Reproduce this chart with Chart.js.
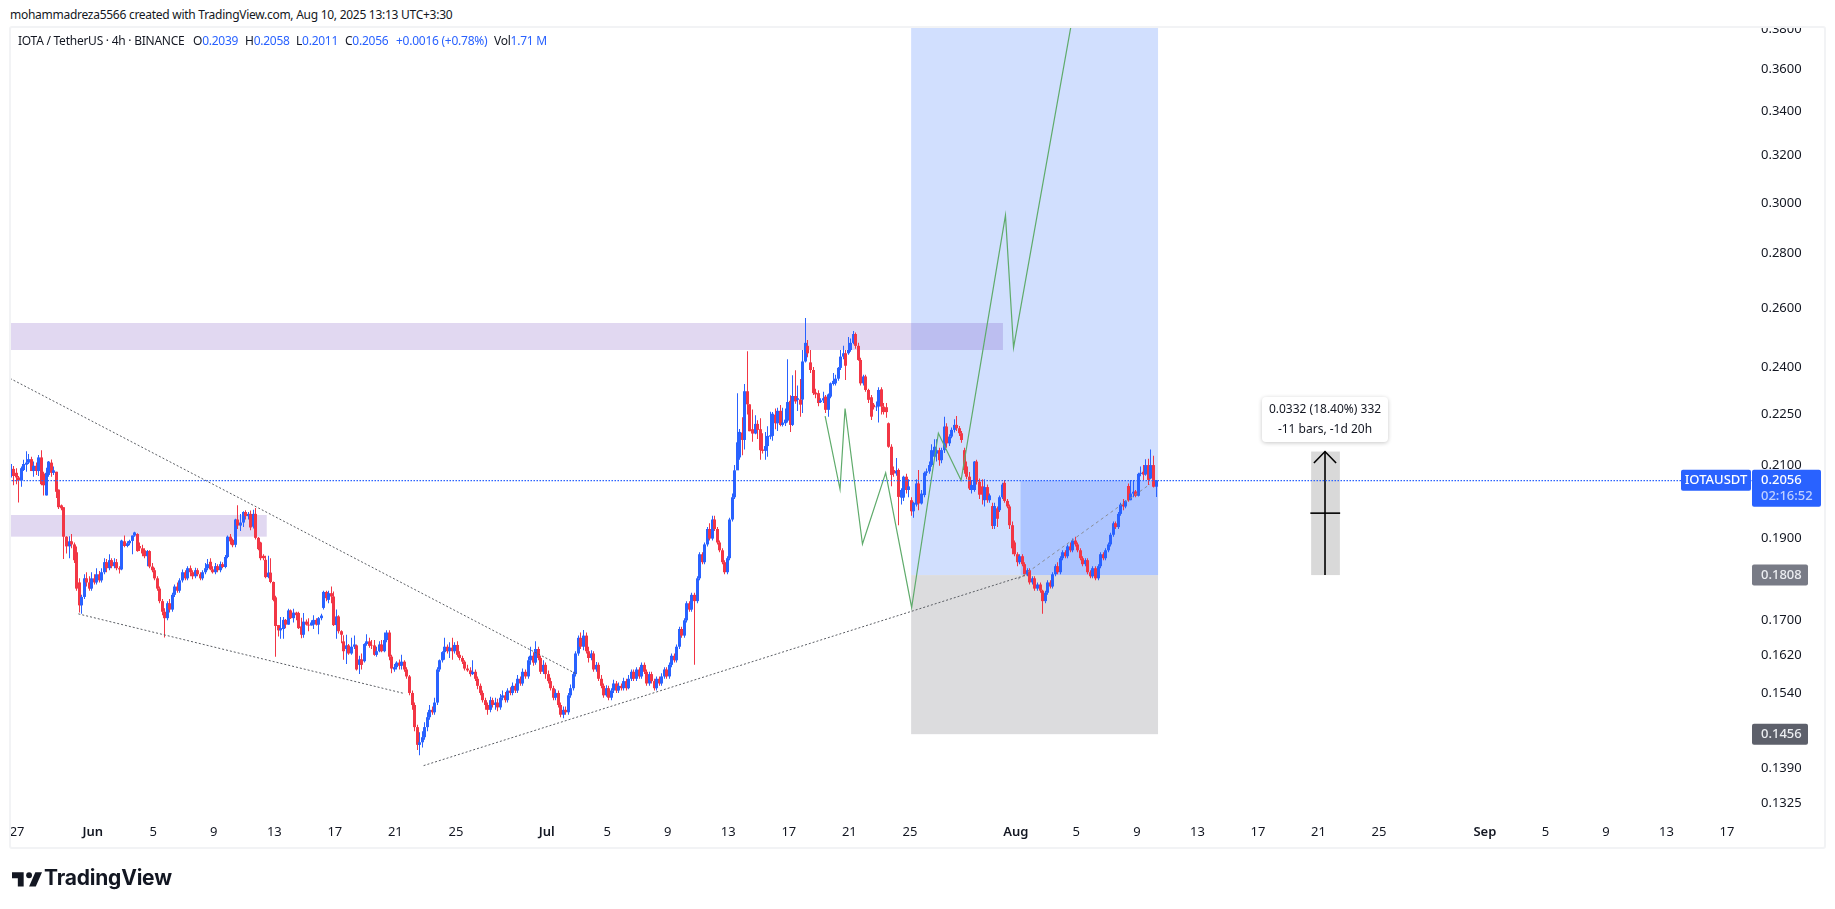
<!DOCTYPE html>
<html>
<head>
<meta charset="utf-8">
<title>IOTAUSDT</title>
<script src="https://cdn.jsdelivr.net/npm/chart.js@4"></script>
<style>
  html, body { margin: 0; padding: 0; background: #fff; overflow: hidden; }
  body { width: 1835px; height: 909px; position: relative; font-family: "Noto Sans", sans-serif; color: #131722; }
  canvas { position: absolute; left: 0; top: 0; }
  .abs { position: absolute; white-space: nowrap; }
  #cover { left: 0; top: 0; width: 1835px; height: 26px; background: #fff; }
  #frame { left: 9px; top: 26px; width: 1817px; height: 823px; box-sizing: border-box; border: 2px solid #f2f3f5; border-radius: 3px; }
  #created { left: 10px; top: 6px; font-size: 12px; line-height: 18px; letter-spacing: -.27px; }
  .leg { top: 32px; font-size: 12px; line-height: 18px; letter-spacing: -.25px; }
  .blue { color: #2962ff; }
  #note { left: 1262px; top: 397px; width: 126px; height: 45px; background: #fff; border-radius: 4px; box-shadow: 0 1px 4px rgba(0,0,0,.22); text-align: center; font-size: 12px; line-height: 20px; padding-top: 2px; box-sizing: border-box; }
  #brand { left: 44px; top: 863px; font-family: Inter, sans-serif; font-weight: 700; font-size: 21px; line-height: 30px; color: #131722; letter-spacing: -.2px; }
</style>
</head>
<body>
<canvas id="chart" width="1835" height="909"></canvas>
<div class="abs" id="cover"></div>
<div class="abs" id="frame"></div>
<div class="abs" id="created">mohammadreza5566 created with TradingView.com, Aug 10, 2025 13:13 UTC+3:30</div>
<div class="abs leg" style="left:18px">IOTA / TetherUS · 4h · BINANCE</div>
<div class="abs leg" style="left:193px">O<span class="blue">0.2039</span></div>
<div class="abs leg" style="left:245px">H<span class="blue">0.2058</span></div>
<div class="abs leg" style="left:296px">L<span class="blue">0.2011</span></div>
<div class="abs leg" style="left:345px">C<span class="blue">0.2056</span></div>
<div class="abs leg blue" style="left:396px">+0.0016 (+0.78%)</div>
<div class="abs leg" style="left:494px">Vol<span class="blue">1.71 M</span></div>
<div class="abs" id="note">0.0332 (18.40%) 332<br>-11 bars, -1d 20h</div>
<svg class="abs" style="left:12px;top:869px" width="30" height="20" viewBox="0 0 36 24"><path fill="#131722" d="M14 4H0v7h7v10h7V4Z"/><circle fill="#131722" cx="20.5" cy="7.5" r="3.5"/><path fill="#131722" d="M28 4h8l-7.5 17h-8L28 4Z"/></svg>
<div class="abs" id="brand">TradingView</div>

<script>
// 4h candles, one row = 10 bars
const opens = [
.2081,.2089,.2078,.2065,.2056,.2086,.2101,.2107,.2117,.2083,
.2098,.2083,.2122,.2076,.2015,.2072,.2107,.2078,.2081,.2031,
.1988,.1983,.1905,.1880,.1893,.1885,.1865,.1790,.1735,.1755,
.1800,.1790,.1775,.1800,.1790,.1810,.1795,.1815,.1840,.1825,
.1845,.1830,.1840,.1825,.1822,.1893,.1881,.1888,.1894,.1908,
.1912,.1881,.1875,.1870,.1855,.1868,.1829,.1820,.1800,.1775,
.1745,.1720,.1705,.1740,.1725,.1760,.1780,.1770,.1795,.1815,
.1800,.1825,.1815,.1805,.1820,.1810,.1800,.1815,.1825,.1841,
.1822,.1815,.1830,.1820,.1835,.1828,.1853,.1905,.1897,.1884,
.1950,.1934,.1942,.1970,.1959,.1965,.1931,.1965,.1902,.1890,
.1856,.1846,.1803,.1814,.1791,.1754,.1689,.1677,.1680,.1701,
.1690,.1723,.1705,.1718,.1717,.1686,.1667,.1697,.1690,.1688,
.1690,.1701,.1690,.1705,.1729,.1767,.1748,.1764,.1756,.1689,
.1709,.1675,.1652,.1635,.1643,.1625,.1640,.1643,.1600,.1612,
.1608,.1646,.1652,.1644,.1643,.1622,.1630,.1645,.1630,.1655,
.1672,.1618,.1590,.1595,.1605,.1598,.1607,.1590,.1575,.1540,
.1515,.1470,.1435,.1440,.1450,.1470,.1490,.1505,.1500,.1520,
.1590,.1610,.1628,.1640,.1630,.1638,.1630,.1644,.1622,.1615,
.1607,.1592,.1588,.1580,.1585,.1570,.1555,.1540,.1525,.1515,
.1505,.1525,.1515,.1520,.1510,.1530,.1535,.1525,.1545,.1540,
.1555,.1545,.1570,.1560,.1585,.1575,.1610,.1620,.1605,.1635,
.1615,.1585,.1600,.1580,.1565,.1550,.1530,.1540,.1515,.1495,
.1505,.1500,.1535,.1550,.1580,.1625,.1660,.1640,.1665,.1630,
.1615,.1625,.1590,.1600,.1570,.1555,.1535,.1550,.1530,.1545,
.1560,.1545,.1555,.1550,.1565,.1550,.1570,.1585,.1570,.1590,
.1575,.1600,.1585,.1560,.1580,.1565,.1550,.1570,.1560,.1575,
.1590,.1575,.1600,.1620,.1610,.1640,.1680,.1665,.1700,.1740,
.1725,.1760,.1745,.1800,.1860,.1840,.1885,.1925,.1900,.1950,
.1925,.1890,.1870,.1840,.1815,.1850,.1950,.2010,.2085,.2122,
.2195,.2173,.2322,.2281,.2205,.2192,.2221,.2205,.2145,.2141,
.2155,.2183,.2185,.2249,.2223,.2261,.2218,.2223,.2231,.2292,
.2218,.2307,.2295,.2296,.2296,.2418,.2470,.2415,.2390,.2318,
.2316,.2288,.2293,.2305,.2264,.2305,.2345,.2347,.2362,.2397,
.2434,.2445,.2445,.2456,.2480,.2510,.2470,.2423,.2347,.2369,
.2326,.2303,.2280,.2272,.2274,.2328,.2274,.2272,.2223,.2153,
.2086,.2076,.2086,.2009,.2009,.2067,.2030,.2002,.1972,.1990,
.2048,.1993,.2016,.2078,.2082,.2100,.2124,.2133,.2143,.2114,
.2143,.2213,.2163,.2183,.2203,.2218,.2208,.2193,.2143,.2096,
.2067,.2030,.2030,.2110,.2053,.2040,.2002,.2038,.2002,.1986,
.1933,.1980,.1975,.2010,.2050,.2000,.1985,.1935,.1890,.1860,
.1840,.1855,.1835,.1810,.1820,.1790,.1800,.1775,.1785,.1770,
.1745,.1765,.1790,.1780,.1810,.1830,.1815,.1850,.1865,.1855,
.1880,.1870,.1895,.1885,.1870,.1850,.1835,.1845,.1815,.1805,
.1825,.1800,.1830,.1860,.1850,.1870,.1885,.1910,.1940,.1930,
.1965,.1990,.1985,.2041,.2002,.2020,.2026,.2014,.2075,.2081,
.2073,.2100,.2062,.2100,.2039];
const highs = [
.2103,.2097,.2091,.2069,.2096,.2115,.2140,.2132,.2124,.2110,
.2107,.2129,.2143,.2081,.2092,.2112,.2116,.2096,.2081,.2031,
.1990,.1983,.1906,.1906,.1912,.1890,.1880,.1800,.1760,.1810,
.1815,.1805,.1815,.1810,.1825,.1818,.1825,.1850,.1848,.1860,
.1850,.1850,.1848,.1830,.1897,.1908,.1893,.1897,.1908,.1918,
.1914,.1890,.1884,.1875,.1871,.1870,.1838,.1826,.1805,.1780,
.1750,.1728,.1745,.1750,.1765,.1785,.1790,.1800,.1822,.1820,
.1830,.1832,.1820,.1826,.1825,.1815,.1820,.1838,.1848,.1850,
.1830,.1838,.1835,.1842,.1840,.1858,.1908,.1912,.1900,.1952,
.1988,.1965,.1972,.1975,.1970,.1974,.1976,.1981,.1904,.1892,
.1860,.1856,.1856,.1850,.1792,.1758,.1689,.1708,.1708,.1703,
.1727,.1725,.1727,.1720,.1720,.1706,.1717,.1702,.1705,.1700,
.1712,.1705,.1708,.1715,.1770,.1770,.1770,.1780,.1768,.1725,
.1712,.1677,.1666,.1667,.1646,.1660,.1665,.1645,.1620,.1625,
.1648,.1668,.1660,.1655,.1655,.1640,.1652,.1655,.1672,.1677,
.1677,.1622,.1602,.1608,.1612,.1622,.1610,.1595,.1578,.1545,
.1520,.1475,.1460,.1462,.1480,.1500,.1515,.1512,.1530,.1595,
.1612,.1630,.1660,.1645,.1650,.1660,.1650,.1652,.1630,.1620,
.1610,.1600,.1595,.1610,.1590,.1575,.1560,.1545,.1530,.1520,
.1532,.1530,.1530,.1528,.1538,.1545,.1542,.1550,.1552,.1562,
.1560,.1578,.1575,.1592,.1590,.1618,.1640,.1628,.1652,.1640,
.1620,.1610,.1605,.1588,.1572,.1555,.1548,.1545,.1520,.1512,
.1512,.1540,.1558,.1585,.1630,.1665,.1672,.1678,.1672,.1640,
.1632,.1630,.1606,.1605,.1578,.1560,.1556,.1555,.1550,.1568,
.1565,.1562,.1560,.1572,.1570,.1578,.1590,.1590,.1595,.1595,
.1605,.1605,.1590,.1585,.1585,.1570,.1575,.1575,.1582,.1595,
.1595,.1605,.1625,.1625,.1645,.1685,.1685,.1705,.1745,.1745,
.1765,.1765,.1805,.1865,.1865,.1890,.1930,.1940,.1960,.1960,
.1930,.1895,.1875,.1845,.1855,.1955,.2020,.2100,.2316,.2206,
.2241,.2345,.2452,.2281,.2265,.2247,.2232,.2238,.2193,.2197,
.2214,.2258,.2257,.2268,.2270,.2279,.2270,.2268,.2425,.2309,
.2373,.2389,.2340,.2361,.2456,.2565,.2490,.2456,.2400,.2330,
.2325,.2300,.2320,.2310,.2315,.2350,.2380,.2375,.2400,.2456,
.2470,.2456,.2500,.2495,.2520,.2515,.2480,.2430,.2375,.2375,
.2330,.2310,.2285,.2290,.2335,.2335,.2285,.2285,.2225,.2160,
.2096,.2120,.2090,.2035,.2070,.2075,.2060,.2010,.1998,.2060,
.2086,.2030,.2082,.2090,.2110,.2160,.2175,.2175,.2150,.2150,
.2243,.2223,.2190,.2210,.2235,.2245,.2215,.2200,.2150,.2110,
.2080,.2058,.2112,.2115,.2062,.2060,.2060,.2045,.2020,.1995,
.1995,.1985,.2015,.2050,.2058,.2005,.1990,.1945,.1895,.1865,
.1860,.1860,.1840,.1825,.1825,.1805,.1805,.1790,.1790,.1772,
.1770,.1795,.1795,.1815,.1835,.1840,.1855,.1870,.1870,.1885,
.1890,.1900,.1905,.1890,.1875,.1855,.1850,.1850,.1820,.1830,
.1830,.1835,.1865,.1865,.1875,.1890,.1915,.1945,.1945,.1970,
.1995,.2005,.2002,.2048,.2058,.2058,.2030,.2078,.2096,.2100,
.2117,.2118,.2145,.2127,.2058];
const lows = [
.2065,.2043,.2046,.1996,.2039,.2083,.2081,.2103,.2083,.2067,
.2072,.2069,.2043,.2015,.2015,.2067,.2067,.2072,.2008,.1978,
.1975,.1848,.1862,.1850,.1875,.1838,.1770,.1718,.1715,.1750,
.1780,.1770,.1770,.1785,.1785,.1790,.1790,.1810,.1815,.1820,
.1825,.1825,.1820,.1812,.1820,.1878,.1878,.1883,.1860,.1905,
.1866,.1868,.1855,.1850,.1830,.1825,.1815,.1795,.1770,.1740,
.1712,.1661,.1700,.1718,.1720,.1755,.1765,.1765,.1790,.1795,
.1795,.1805,.1798,.1800,.1805,.1795,.1795,.1810,.1820,.1820,
.1812,.1810,.1815,.1815,.1825,.1825,.1850,.1885,.1878,.1878,
.1925,.1920,.1930,.1950,.1950,.1922,.1926,.1898,.1870,.1845,
.1845,.1800,.1800,.1788,.1745,.1618,.1663,.1658,.1658,.1682,
.1690,.1703,.1695,.1700,.1680,.1659,.1660,.1688,.1675,.1688,
.1680,.1688,.1668,.1700,.1725,.1745,.1740,.1740,.1687,.1658,
.1670,.1648,.1611,.1602,.1622,.1622,.1635,.1588,.1580,.1590,
.1605,.1642,.1638,.1635,.1620,.1618,.1628,.1628,.1628,.1650,
.1610,.1582,.1585,.1590,.1590,.1590,.1585,.1570,.1535,.1505,
.1462,.1425,.1415,.1430,.1445,.1462,.1485,.1495,.1495,.1515,
.1585,.1605,.1611,.1625,.1615,.1611,.1625,.1618,.1610,.1602,
.1588,.1585,.1575,.1578,.1565,.1548,.1535,.1520,.1505,.1495,
.1500,.1510,.1505,.1502,.1505,.1525,.1520,.1520,.1535,.1535,
.1540,.1540,.1555,.1555,.1570,.1570,.1600,.1598,.1600,.1610,
.1580,.1580,.1570,.1560,.1545,.1525,.1525,.1510,.1490,.1488,
.1495,.1495,.1530,.1545,.1575,.1620,.1635,.1632,.1625,.1605,
.1610,.1585,.1585,.1565,.1550,.1530,.1532,.1525,.1525,.1540,
.1540,.1540,.1545,.1545,.1545,.1548,.1565,.1565,.1565,.1570,
.1570,.1580,.1555,.1555,.1560,.1545,.1545,.1555,.1555,.1570,
.1570,.1570,.1595,.1605,.1605,.1635,.1660,.1660,.1695,.1720,
.1720,.1600,.1740,.1795,.1835,.1835,.1880,.1895,.1895,.1920,
.1885,.1865,.1835,.1810,.1810,.1845,.1945,.2005,.2115,.2115,
.2128,.2145,.2250,.2199,.2168,.2190,.2176,.2115,.2133,.2115,
.2124,.2175,.2171,.2205,.2200,.2214,.2213,.2215,.2225,.2197,
.2215,.2283,.2260,.2243,.2254,.2415,.2432,.2380,.2310,.2300,
.2275,.2285,.2285,.2254,.2243,.2300,.2340,.2340,.2355,.2390,
.2425,.2358,.2440,.2450,.2475,.2460,.2420,.2340,.2340,.2320,
.2285,.2233,.2265,.2260,.2225,.2250,.2250,.2240,.2150,.2040,
.2067,.2070,.1935,.1990,.2000,.2020,.2010,.1960,.1955,.1985,
.1975,.1990,.2010,.2070,.2075,.2095,.2118,.2110,.2098,.2105,
.2135,.2150,.2155,.2178,.2195,.2200,.2185,.2165,.2075,.2060,
.2030,.2020,.2025,.2045,.2005,.1990,.1985,.1995,.1995,.1925,
.1925,.1930,.1970,.2005,.1995,.1980,.1925,.1860,.1855,.1830,
.1835,.1830,.1805,.1805,.1785,.1785,.1770,.1770,.1765,.1715,
.1740,.1760,.1775,.1775,.1805,.1810,.1810,.1845,.1850,.1850,
.1865,.1865,.1880,.1865,.1845,.1830,.1830,.1810,.1800,.1800,
.1795,.1795,.1825,.1845,.1845,.1865,.1880,.1905,.1925,.1925,
.1960,.1975,.1980,.1998,.2002,.2010,.2010,.2012,.2068,.2058,
.2070,.2044,.2060,.2037,.2011];
const closes = [
.2089,.2069,.2065,.2056,.2091,.2103,.2107,.2117,.2083,.2098,
.2083,.2122,.2046,.2043,.2078,.2110,.2078,.2085,.2025,.1983,
.1980,.1905,.1880,.1893,.1885,.1845,.1775,.1735,.1755,.1800,
.1790,.1775,.1800,.1790,.1810,.1795,.1815,.1840,.1825,.1845,
.1830,.1840,.1825,.1822,.1895,.1881,.1888,.1894,.1908,.1916,
.1868,.1875,.1862,.1855,.1868,.1829,.1820,.1800,.1775,.1745,
.1720,.1705,.1740,.1725,.1760,.1780,.1770,.1795,.1815,.1800,
.1825,.1815,.1805,.1820,.1810,.1800,.1815,.1825,.1835,.1822,
.1815,.1830,.1820,.1835,.1828,.1853,.1905,.1893,.1883,.1950,
.1934,.1942,.1970,.1959,.1965,.1929,.1965,.1902,.1873,.1850,
.1850,.1803,.1814,.1791,.1748,.1687,.1677,.1682,.1701,.1690,
.1723,.1705,.1718,.1712,.1682,.1667,.1697,.1690,.1688,.1695,
.1701,.1690,.1705,.1711,.1767,.1752,.1764,.1756,.1689,.1709,
.1675,.1667,.1630,.1643,.1625,.1640,.1645,.1590,.1612,.1600,
.1646,.1652,.1642,.1643,.1622,.1630,.1645,.1630,.1655,.1672,
.1618,.1592,.1595,.1605,.1598,.1607,.1590,.1575,.1540,.1515,
.1470,.1435,.1440,.1450,.1470,.1490,.1505,.1500,.1520,.1590,
.1610,.1628,.1640,.1630,.1638,.1630,.1644,.1622,.1615,.1607,
.1592,.1588,.1580,.1585,.1570,.1555,.1540,.1525,.1515,.1505,
.1525,.1515,.1520,.1510,.1530,.1535,.1525,.1545,.1540,.1555,
.1545,.1570,.1560,.1585,.1575,.1610,.1620,.1605,.1635,.1615,
.1585,.1600,.1580,.1565,.1550,.1530,.1540,.1515,.1495,.1505,
.1500,.1535,.1550,.1580,.1625,.1660,.1640,.1665,.1630,.1615,
.1625,.1590,.1600,.1570,.1555,.1535,.1550,.1530,.1545,.1560,
.1545,.1555,.1550,.1565,.1550,.1570,.1585,.1570,.1590,.1575,
.1600,.1585,.1560,.1580,.1565,.1550,.1570,.1560,.1575,.1590,
.1575,.1600,.1620,.1610,.1640,.1680,.1665,.1700,.1740,.1725,
.1760,.1745,.1800,.1860,.1840,.1885,.1925,.1900,.1950,.1925,
.1890,.1870,.1840,.1815,.1850,.1950,.2010,.2085,.2166,.2197,
.2173,.2322,.2281,.2199,.2192,.2221,.2203,.2143,.2141,.2155,
.2185,.2187,.2252,.2223,.2261,.2218,.2225,.2234,.2288,.2218,
.2307,.2290,.2300,.2280,.2418,.2480,.2445,.2390,.2316,.2312,
.2285,.2293,.2300,.2264,.2312,.2347,.2355,.2362,.2397,.2434,
.2445,.2404,.2456,.2480,.2510,.2470,.2423,.2347,.2369,.2326,
.2295,.2243,.2272,.2274,.2326,.2274,.2257,.2257,.2153,.2072,
.2076,.2084,.2011,.2030,.2067,.2030,.2040,.1972,.1995,.2048,
.1993,.2020,.2078,.2082,.2100,.2143,.2153,.2143,.2114,.2143,
.2213,.2163,.2183,.2203,.2218,.2208,.2193,.2173,.2086,.2067,
.2034,.2044,.2110,.2053,.2017,.2017,.2038,.2002,.2015,.1933,
.1986,.1952,.2010,.2045,.2000,.1985,.1935,.1875,.1860,.1840,
.1855,.1835,.1810,.1820,.1790,.1800,.1775,.1785,.1770,.1745,
.1765,.1790,.1780,.1810,.1830,.1815,.1850,.1865,.1855,.1880,
.1870,.1895,.1885,.1870,.1850,.1835,.1845,.1815,.1805,.1825,
.1800,.1830,.1860,.1850,.1870,.1885,.1910,.1940,.1930,.1965,
.1990,.1985,.2000,.2002,.2020,.2025,.2014,.2075,.2078,.2073,
.2100,.2058,.2100,.2039,.2056];

// axes
const priceTicks = [.38, .36, .34, .32, .30, .28, .26, .24, .225, .21, .19, .17, .162, .154, .139, .1325];
const dateBars = [2.4, 32.4, 56.4, 80.4, 104.4, 128.4, 152.4, 176.4, 212.4, 236.4, 260.4, 284.4, 308.4, 332.4, 356.4, 398.4, 422.4, 446.4, 470.4, 494.4, 518.4, 542.4, 584.4, 608.4, 632.4, 656.4, 680.4];
const dateLabels = ['27', 'Jun', '5', '9', '13', '17', '21', '25', 'Jul', '5', '9', '13', '17', '21', '25', 'Aug', '5', '9', '13', '17', '21', '25', 'Sep', '5', '9', '13', '17'];

// shaded boxes in bars / price, later ones paint over earlier ones
const boxStart  = [356.9, 356.9, 400.3, 515.5, -1, -1];
const boxEnd    = [454.8, 454.8, 454.8, 526.9, 393.3, 101.4];
const boxTop    = [.40, .1808, .2056, .2139, .2548, .1962];
const boxBottom = [.1808, .1456, .1808, .1808, .2456, .1905];
const boxColor  = ['#d1dffe', '#dcdcde', '#adc5ff', '#d9d9d9', 'rgba(103,58,183,.2)', 'rgba(103,58,183,.2)'];

// drawn lines
const upperTrendX = [-0.4, 224], upperTrendY = [.2363, .1581];
const lowerTrendX = [26.7, 155.8], lowerTrendY = [.1715, .1539];
const riseTrendX = [163.6, 403], riseTrendY = [.1395, .1809];
const fadeTrendX = [399.3, 451.6], fadeTrendY = [.1798, .2046];
const pathX = [322.8, 328.7, 330.7, 337.6, 346.8, 357.1, 367.7, 376.7, 394.3, 397.5, 420.7];
const pathY = [.2245, .2032, .2268, .1886, .2078, .1730, .2193, .2057, .2950, .2464, .3848];
const lastPrice = .2056;

const BLUE = '#2962ff', RED = '#f23645';
const bars = opens.map((o, i) => i);
const candleColor = c => closes[c.dataIndex] >= opens[c.dataIndex] ? BLUE : RED;
const pts = (xs, ys) => xs.map((x, i) => ({ x: x, y: ys[i] }));

function lineSet(data, color, width, dash) {
  return { type: 'line', data: data, borderColor: color, borderWidth: width, borderDash: dash || [], pointRadius: 0, order: 1, tension: 0, fill: false };
}

// boxes go under the candles
const boxes = {
  id: 'boxes',
  beforeDatasetsDraw(chart) {
    const { ctx, chartArea: a, scales: { x, y } } = chart;
    ctx.save();
    ctx.beginPath();
    ctx.rect(a.left, a.top, a.width, a.height);
    ctx.clip();
    boxStart.forEach((s, i) => {
      const x0 = x.getPixelForValue(s), x1 = x.getPixelForValue(boxEnd[i]);
      const y0 = y.getPixelForValue(boxTop[i]), y1 = y.getPixelForValue(boxBottom[i]);
      ctx.fillStyle = boxColor[i];
      ctx.fillRect(x0, y0, x1 - x0, y1 - y0);
    });
    ctx.restore();
  }
};

// keep candles on whole pixels so wicks stay sharp
const snap = {
  id: 'snap',
  afterDatasetsUpdate(chart) {
    chart.data.datasets.forEach((d, i) => {
      if (d.type === 'line') return;
      chart.getDatasetMeta(i).data.forEach(el => { el.x = Math.floor(el.x) + 0.5; });
    });
  }
};

function tag(ctx, x, y, w, h, color) {
  ctx.fillStyle = color;
  ctx.beginPath();
  ctx.roundRect(x, y, w, h, 2);
  ctx.fill();
}

// price tags on the right
const tags = {
  id: 'tags',
  afterDraw(chart) {
    const { ctx, scales: { y } } = chart;
    const left = y.left;
    const py = y.getPixelForValue(lastPrice);
    ctx.save();
    ctx.textBaseline = 'middle';
    ctx.font = '500 13px "Noto Sans"';
    tag(ctx, left - 71, py - 11, 70, 21, BLUE);
    tag(ctx, left, py - 11, 69, 37, BLUE);
    ctx.fillStyle = '#fff';
    ctx.textAlign = 'center';
    ctx.fillText('IOTAUSDT', left - 36, py);
    ctx.textAlign = 'left';
    ctx.fillText(lastPrice.toFixed(4), left + 9, py);
    ctx.fillStyle = '#bfd0ff';
    ctx.fillText('02:16:52', left + 9, py + 16);
    [[.1808, '#787b86', '#eceef2'], [.1456, '#5d606b', '#eceef2']].forEach(t => {
      const ty = y.getPixelForValue(t[0]);
      tag(ctx, left, ty - 10.5, 56, 21, t[1]);
      ctx.fillStyle = t[2];
      ctx.fillText(t[0].toFixed(4), left + 9, ty);
    });
    ctx.restore();
  }
};

new Chart(document.getElementById('chart').getContext('2d'), {
  type: 'bar',
  data: {
    datasets: [
      lineSet([{ x: -1, y: lastPrice }, { x: 691, y: lastPrice }], BLUE, 1.3, [1.5, 1.5]),
      lineSet(pts(pathX, pathY), '#5fab6b', 1.2),
      lineSet(pts(upperTrendX, upperTrendY), '#5a5d63', 1, [2, 2]),
      lineSet(pts(lowerTrendX, lowerTrendY), '#5a5d63', 1, [2, 2]),
      lineSet(pts(riseTrendX, riseTrendY), '#5a5d63', 1, [2, 2]),
      lineSet(pts(fadeTrendX, fadeTrendY), '#8a8e96', 1, [3, 3]),
      lineSet([{ x: 521, y: .1808 }, { x: 521, y: .2139 }], '#000', 1.6),
      lineSet([{ x: 515.2, y: .1967 }, { x: 527, y: .1967 }], '#000', 1.6),
      lineSet([{ x: 516.6, y: .2106 }, { x: 521, y: .2139 }, { x: 525.4, y: .2106 }], '#000', 1.6),
      { data: bars.map(i => ({ x: i, y: [opens[i], closes[i]] })), backgroundColor: candleColor, barThickness: 3, inflateAmount: 0, grouped: false, order: 5 },
      { data: bars.map(i => ({ x: i, y: [lows[i], highs[i]] })), backgroundColor: candleColor, barThickness: 1, inflateAmount: 0, grouped: false, order: 6 }
    ]
  },
  plugins: [boxes, snap, tags],
  options: {
    responsive: false,
    animation: false,
    events: [],
    layout: { padding: { left: 10, top: 27, right: 10, bottom: 60 } },
    plugins: { legend: { display: false }, tooltip: { enabled: false } },
    scales: {
      x: {
        type: 'linear',
        offset: false,
        min: -0.4,
        max: 690.3,
        bounds: 'data',
        grid: { display: false, drawTicks: false },
        border: { display: false },
        afterBuildTicks: s => { s.ticks = dateBars.map(v => ({ value: v })); },
        afterFit: s => { s.height = 31; },
        ticks: {
          autoSkip: false,
          maxRotation: 0,
          padding: 6,
          color: '#131722',
          font: c => ({ family: 'Noto Sans', size: 13, weight: isNaN(dateLabels[c.index]) ? '600' : '400' }),
          callback: (v, i) => dateLabels[i]
        }
      },
      y: {
        type: 'logarithmic',
        position: 'right',
        min: .1299,
        max: .3812,
        bounds: 'data',
        beginAtZero: false,
        grid: { display: false, drawTicks: false },
        border: { display: false },
        afterBuildTicks: s => { s.ticks = priceTicks.map(v => ({ value: v })); },
        afterFit: s => { s.width = 73; },
        ticks: {
          autoSkip: false,
          padding: 9,
          crossAlign: 'near',
          color: '#131722',
          font: { family: 'Noto Sans', size: 13 },
          callback: v => v.toFixed(4)
        }
      }
    }
  }
});
</script>
</body>
</html>
